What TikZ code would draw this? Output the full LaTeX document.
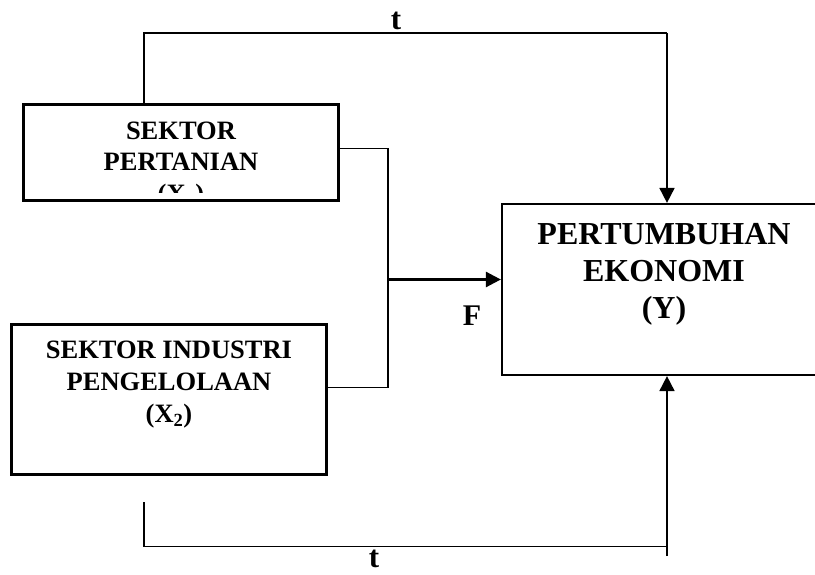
\documentclass[tikz,border=0pt]{standalone}
\usepackage{fontspec}
\setmainfont{Liberation Serif}
\usetikzlibrary{arrows.meta}
\begin{document}
\begin{tikzpicture}[x=1pt,y=1pt,
  boxstyle/.style={draw, line width=2.2pt, inner sep=0pt},
  txt/.style={align=center, font=\fontsize{26.5}{31.5}\selectfont\bfseries, inner sep=0pt},
  bigtxt/.style={align=center, font=\fontsize{32}{37}\selectfont\bfseries, inner sep=0pt},
  conn/.style={line width=1.8pt},
  arr/.style={line width=1.8pt, -{Triangle[length=15pt,width=15pt]}},
  lbl/.style={font=\fontsize{31}{34}\selectfont\bfseries, inner sep=0pt}]
\useasboundingbox (0,0) rectangle (815,-575);
\clip (0,0) rectangle (815,-575);
% boxes
\node[boxstyle, minimum width=315pt, minimum height=96pt] (b1) at (181,-152.5) {};
\begin{scope}
  \clip (24,-105) rectangle (338,-193);
  \node[txt] (b1t) at (181,-165) {SEKTOR\\PERTANIAN\\(X\textsubscript{1})};
\end{scope}
\node[boxstyle, minimum width=315pt, minimum height=150pt] (b2) at (169,-399.5) {};
\node[txt, font=\fontsize{26.5}{32}\selectfont\bfseries] (b2t) at (169,-385) {SEKTOR INDUSTRI\\PENGELOLAAN\\(X\textsubscript{2})};
\node[boxstyle, minimum width=324pt, minimum height=171pt] (y) at (664,-289.5) {};
\node[bigtxt] (yt) at (664,-274) {PERTUMBUHAN\\EKONOMI\\(Y)};
% coordinates
\coordinate (tl) at (144,-33);
\coordinate (tr) at (667,-33);
\coordinate (j1) at (388,-148.5);
\coordinate (j2) at (388,-387.5);
\coordinate (jf) at (388,-279.5);
\coordinate (bl) at (144,-502);
\coordinate (bl2) at (144,-546.5);
\coordinate (br) at (667,-546.5);
\coordinate (bend) at (667,-556);
% connectors
\draw[conn] (b1.north -| tl) -- (tl) -- (tr);
\draw[arr] (tr) -- (y.north -| tr);
\draw[conn] (j1 -| b1.east) -- (j1) -- (j2) -- (j2 -| b2.east);
\draw[arr, line width=2.6pt] (jf) -- (jf -| y.west);
\draw[conn] (bl) -- (bl2) -- (br);
\draw[arr] (bend) -- (y.south -| bend);
% labels
\node[lbl] (t1) at (396,-21) {t};
\node[lbl, font=\fontsize{30}{33}\selectfont\bfseries] (f) at (472,-316) {F};
\node[lbl] (t2) at (374,-559) {t};
\end{tikzpicture}
\end{document}
